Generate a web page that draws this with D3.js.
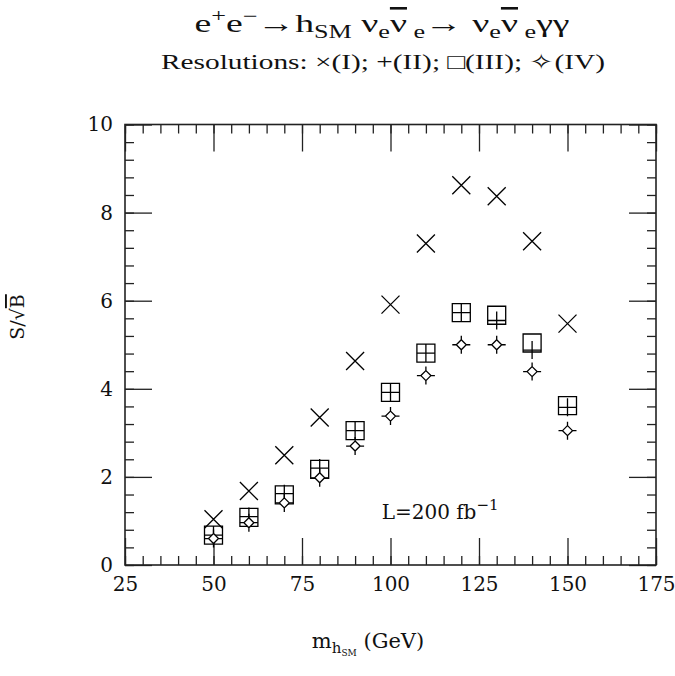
<!DOCTYPE html>
<html>
<head>
<meta charset="utf-8">
<script src="https://cdn.jsdelivr.net/npm/d3@7"></script>
<style>
  body { margin: 0; background: #fff; }
  text { font-family: "DejaVu Serif", "Liberation Serif", serif; fill: #111; }
  .thin { font-family: "Liberation Serif", "DejaVu Serif", serif; }
</style>
</head>
<body>
<div id="canvas"></div>
<script>
// higgs mass points (GeV) and S/sqrt(B) for the four resolutions
var mass   = [50, 60, 70, 80, 90, 100, 110, 120, 130, 140, 150];
var resI   = [1.04, 1.68, 2.49, 3.35, 4.63, 5.91, 7.30, 8.62, 8.37, 7.35, 5.48];
var resII  = [0.68, 1.10, 1.62, 2.20, 3.05, 3.92, 4.81, 5.73, 5.55, 4.88, 3.58];
var resIII = [0.68, 1.08, 1.59, 2.17, 3.05, 3.92, 4.81, 5.73, 5.67, 5.04, 3.62];
var resIV  = [0.60, 0.96, 1.41, 1.98, 2.70, 3.38, 4.30, 5.00, 5.00, 4.39, 3.05];

var xMajor = [25, 50, 75, 100, 125, 150, 175];
var yMajor = [0, 2, 4, 6, 8, 10];

var W = 675, H = 676;
var m = {t:124.5, r:19, b:111, l:125};

var svg = d3.select('#canvas').append('svg')
    .attr('width', W).attr('height', H);

var x = d3.scaleLinear().domain([25, 175]).range([m.l, W - m.r]);
var y = d3.scaleLinear().domain([0, 10]).range([H - m.b, m.t]);

var xMinor = d3.range(25, 175.1, 5);
var yMinor = d3.range(0, 10.01, 0.4);

function styleAxis(g){
    g.select('.domain').remove();
    g.selectAll('line').attr('stroke', '#222').attr('stroke-width', 1.3);
    g.selectAll('text').style('font-size', '20px').attr('fill', '#111');
}

// minor ticks
svg.append('g').attr('transform', 'translate(0,' + y(0) + ')')
    .call(d3.axisBottom(x).tickValues(xMinor).tickSize(-9).tickFormat(''))
    .call(styleAxis);
svg.append('g').attr('transform', 'translate(0,' + y(10) + ')')
    .call(d3.axisTop(x).tickValues(xMinor).tickSize(-9).tickFormat(''))
    .call(styleAxis);
svg.append('g').attr('transform', 'translate(' + x(25) + ',0)')
    .call(d3.axisLeft(y).tickValues(yMinor).tickSize(-9).tickFormat(''))
    .call(styleAxis);
svg.append('g').attr('transform', 'translate(' + x(175) + ',0)')
    .call(d3.axisRight(y).tickValues(yMinor).tickSize(-9).tickFormat(''))
    .call(styleAxis);

// major ticks + labels
svg.append('g').attr('transform', 'translate(0,' + y(0) + ')')
    .call(d3.axisBottom(x).tickValues(xMajor).tickSize(-27).tickPadding(12).tickFormat(d3.format('d')))
    .call(styleAxis);
svg.append('g').attr('transform', 'translate(0,' + y(10) + ')')
    .call(d3.axisTop(x).tickValues(xMajor).tickSize(-27).tickFormat(''))
    .call(styleAxis);
svg.append('g').attr('transform', 'translate(' + x(25) + ',0)')
    .call(d3.axisLeft(y).tickValues(yMajor).tickSize(-27).tickPadding(12).tickFormat(d3.format('d')))
    .call(styleAxis);
svg.append('g').attr('transform', 'translate(' + x(175) + ',0)')
    .call(d3.axisRight(y).tickValues(yMajor).tickSize(-27).tickFormat(''))
    .call(styleAxis);

// frame
svg.append('rect')
    .attr('x', x(25)).attr('y', y(10))
    .attr('width', x(175) - x(25)).attr('height', y(0) - y(10))
    .attr('fill', 'none').attr('stroke', '#222').attr('stroke-width', 1.6);

// marker shapes
var s = 9;
var shapes = {
    cross: 'M' + (-s) + ',' + (-s) + 'L' + s + ',' + s + 'M' + (-s) + ',' + s + 'L' + s + ',' + (-s),
    plus: 'M0,' + (-s) + 'V' + s + 'M' + (-s) + ',0H' + s,
    square: 'M' + (-s) + ',' + (-s) + 'H' + s + 'V' + s + 'H' + (-s) + 'Z',
    star: 'M0,-5L5,0L0,5L-5,0Z M0,-5V-9 M5,0H9 M0,5V9 M-5,0H-9'
};

function drawSeries(vals, shape, cls){
    svg.append('g').attr('class', cls)
        .selectAll('path')
        .data(vals.map(function(v, i){ return {m: mass[i], v: v}; }))
        .enter().append('path')
        .attr('d', shapes[shape])
        .attr('transform', function(d){ return 'translate(' + x(d.m) + ',' + y(d.v) + ')'; })
        .attr('fill', shape == 'star' ? '#fff' : 'none')
        .attr('stroke', '#000')
        .attr('stroke-width', 1.3);
}

drawSeries(resI, 'cross', 'res-I');
drawSeries(resIII, 'square', 'res-III');
drawSeries(resII, 'plus', 'res-II');
drawSeries(resIV, 'star', 'res-IV');

// title
var t = svg.append('text').attr('class', 'thin').attr('x', 382).attr('y', 32)
    .attr('text-anchor', 'middle').style('font-size', '26px')
    .attr('textLength', 375).attr('lengthAdjust', 'spacingAndGlyphs');
t.append('tspan').text('e');
t.append('tspan').attr('dy', -10).style('font-size', '18px').text('+');
t.append('tspan').attr('dy', 10).text('e');
t.append('tspan').attr('dy', -10).style('font-size', '18px').text('\u2212');
t.append('tspan').attr('dy', 10).text('\u2192h');
t.append('tspan').attr('dy', 6).style('font-size', '18px').text('SM');
t.append('tspan').attr('dy', -6).text('  \u03bd');
t.append('tspan').attr('dy', 6).style('font-size', '18px').text('e');
t.append('tspan').attr('dy', -6).style('text-decoration', 'overline').text('\u03bd');
t.append('tspan').attr('dy', 6).style('font-size', '18px').text(' e');
t.append('tspan').attr('dy', -6).text('\u2192  \u03bd');
t.append('tspan').attr('dy', 6).style('font-size', '18px').text('e');
t.append('tspan').attr('dy', -6).style('text-decoration', 'overline').text('\u03bd');
t.append('tspan').attr('dy', 6).style('font-size', '18px').text(' e');
t.append('tspan').attr('dy', -6).text('\u03b3\u03b3');

svg.append('text').attr('class', 'thin').attr('x', 383).attr('y', 69)
    .attr('text-anchor', 'middle').style('font-size', '21px')
    .attr('textLength', 444).attr('lengthAdjust', 'spacingAndGlyphs')
    .text('Resolutions: \u00d7(I);  +(II);  \u25a1(III);  \u2727(IV)');

// axis titles
var xt = svg.append('text').attr('x', 368).attr('y', 648)
    .attr('text-anchor', 'middle').style('font-size', '21px');
xt.append('tspan').text('m');
xt.append('tspan').attr('dy', 5).style('font-size', '15px').text('h');
xt.append('tspan').attr('dy', 3).style('font-size', '9px').text('SM');
xt.append('tspan').attr('dy', -8).text('  (GeV)');

var yt = svg.append('text')
    .attr('transform', 'translate(24,317) rotate(-90)')
    .attr('text-anchor', 'middle').style('font-size', '19px');
yt.append('tspan').text('S/\u221a');
yt.append('tspan').style('text-decoration', 'overline').text('B');

// luminosity note
var lt = svg.append('text').attr('x', x(97.5)).attr('y', y(1.05))
    .style('font-size', '20px');
lt.append('tspan').text('L=200  fb');
lt.append('tspan').attr('dy', -9).style('font-size', '15px').text('\u22121');
</script>
</body>
</html>
